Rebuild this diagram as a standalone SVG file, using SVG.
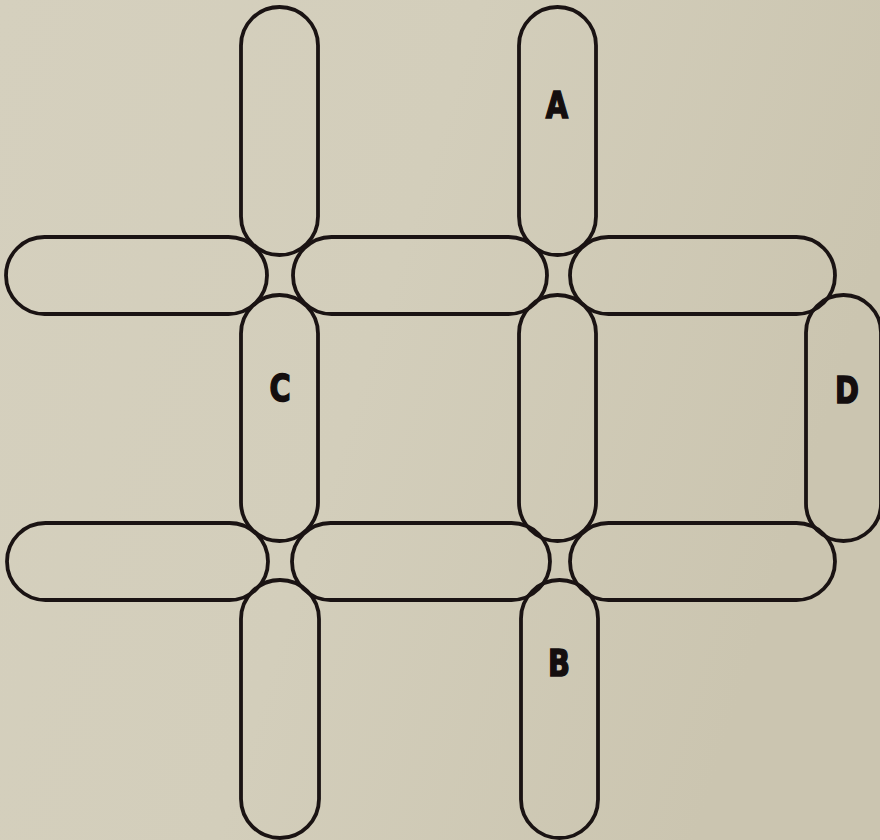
<svg xmlns="http://www.w3.org/2000/svg" width="880" height="840" viewBox="0 0 880 840">
  <defs>
    <linearGradient id="bg" x1="0" y1="0" x2="1" y2="0.3">
      <stop offset="0" stop-color="#d5d0be"/>
      <stop offset="0.5" stop-color="#d3cebb"/>
      <stop offset="1" stop-color="#cbc5b0"/>
    </linearGradient>
    <style>
      .pill { fill: none; stroke: #1a1313; stroke-width: 3.8; }
      .lbl { font-family: "DejaVu Sans", "Liberation Sans", sans-serif; font-weight: bold; font-size: 37px; fill: #140e0e; stroke: #140e0e; stroke-width: 1.6; text-anchor: middle; }
    </style>
  </defs>
  <rect width="880" height="840" fill="url(#bg)"/>

  <!-- vertical pills, column 1 -->
  <g id="v1-top"><rect class="pill" x="241" y="7" width="77" height="248" rx="38.5"/></g>
  <g id="C"><rect class="pill" x="241" y="295" width="77" height="246" rx="38.5"/><text class="lbl" transform="translate(280 401) scale(0.78 1)">C</text></g>
  <g id="v1-bottom"><rect class="pill" x="241" y="580" width="78" height="258" rx="39"/></g>

  <!-- vertical pills, column 2 -->
  <g id="A"><rect class="pill" x="519" y="7" width="77" height="248" rx="38.5"/><text class="lbl" transform="translate(557 118) scale(0.78 1)">A</text></g>
  <g id="v2-mid"><rect class="pill" x="519" y="295" width="77" height="246" rx="38.5"/></g>
  <g id="B"><rect class="pill" x="521" y="580" width="77" height="258" rx="38.5"/><text class="lbl" transform="translate(559 676) scale(0.78 1)">B</text></g>

  <!-- horizontal pills, row 1 -->
  <g id="h1-left"><rect class="pill" x="6" y="237" width="261" height="77" rx="38.5"/></g>
  <g id="h1-mid"><rect class="pill" x="293" y="237" width="254" height="77" rx="38.5"/></g>
  <g id="h1-right"><rect class="pill" x="570" y="237" width="265" height="77" rx="38.5"/></g>

  <!-- horizontal pills, row 2 -->
  <g id="h2-left"><rect class="pill" x="7" y="523" width="261" height="77" rx="38.5"/></g>
  <g id="h2-mid"><rect class="pill" x="292" y="523" width="258" height="77" rx="38.5"/></g>
  <g id="h2-right"><rect class="pill" x="570" y="523" width="265" height="77" rx="38.5"/></g>

  <!-- D pill -->
  <g id="D"><rect class="pill" x="806" y="295" width="75" height="246" rx="37.5"/><text class="lbl" transform="translate(847 403) scale(0.78 1)">D</text></g>

  <g id="connectors"></g>
</svg>
